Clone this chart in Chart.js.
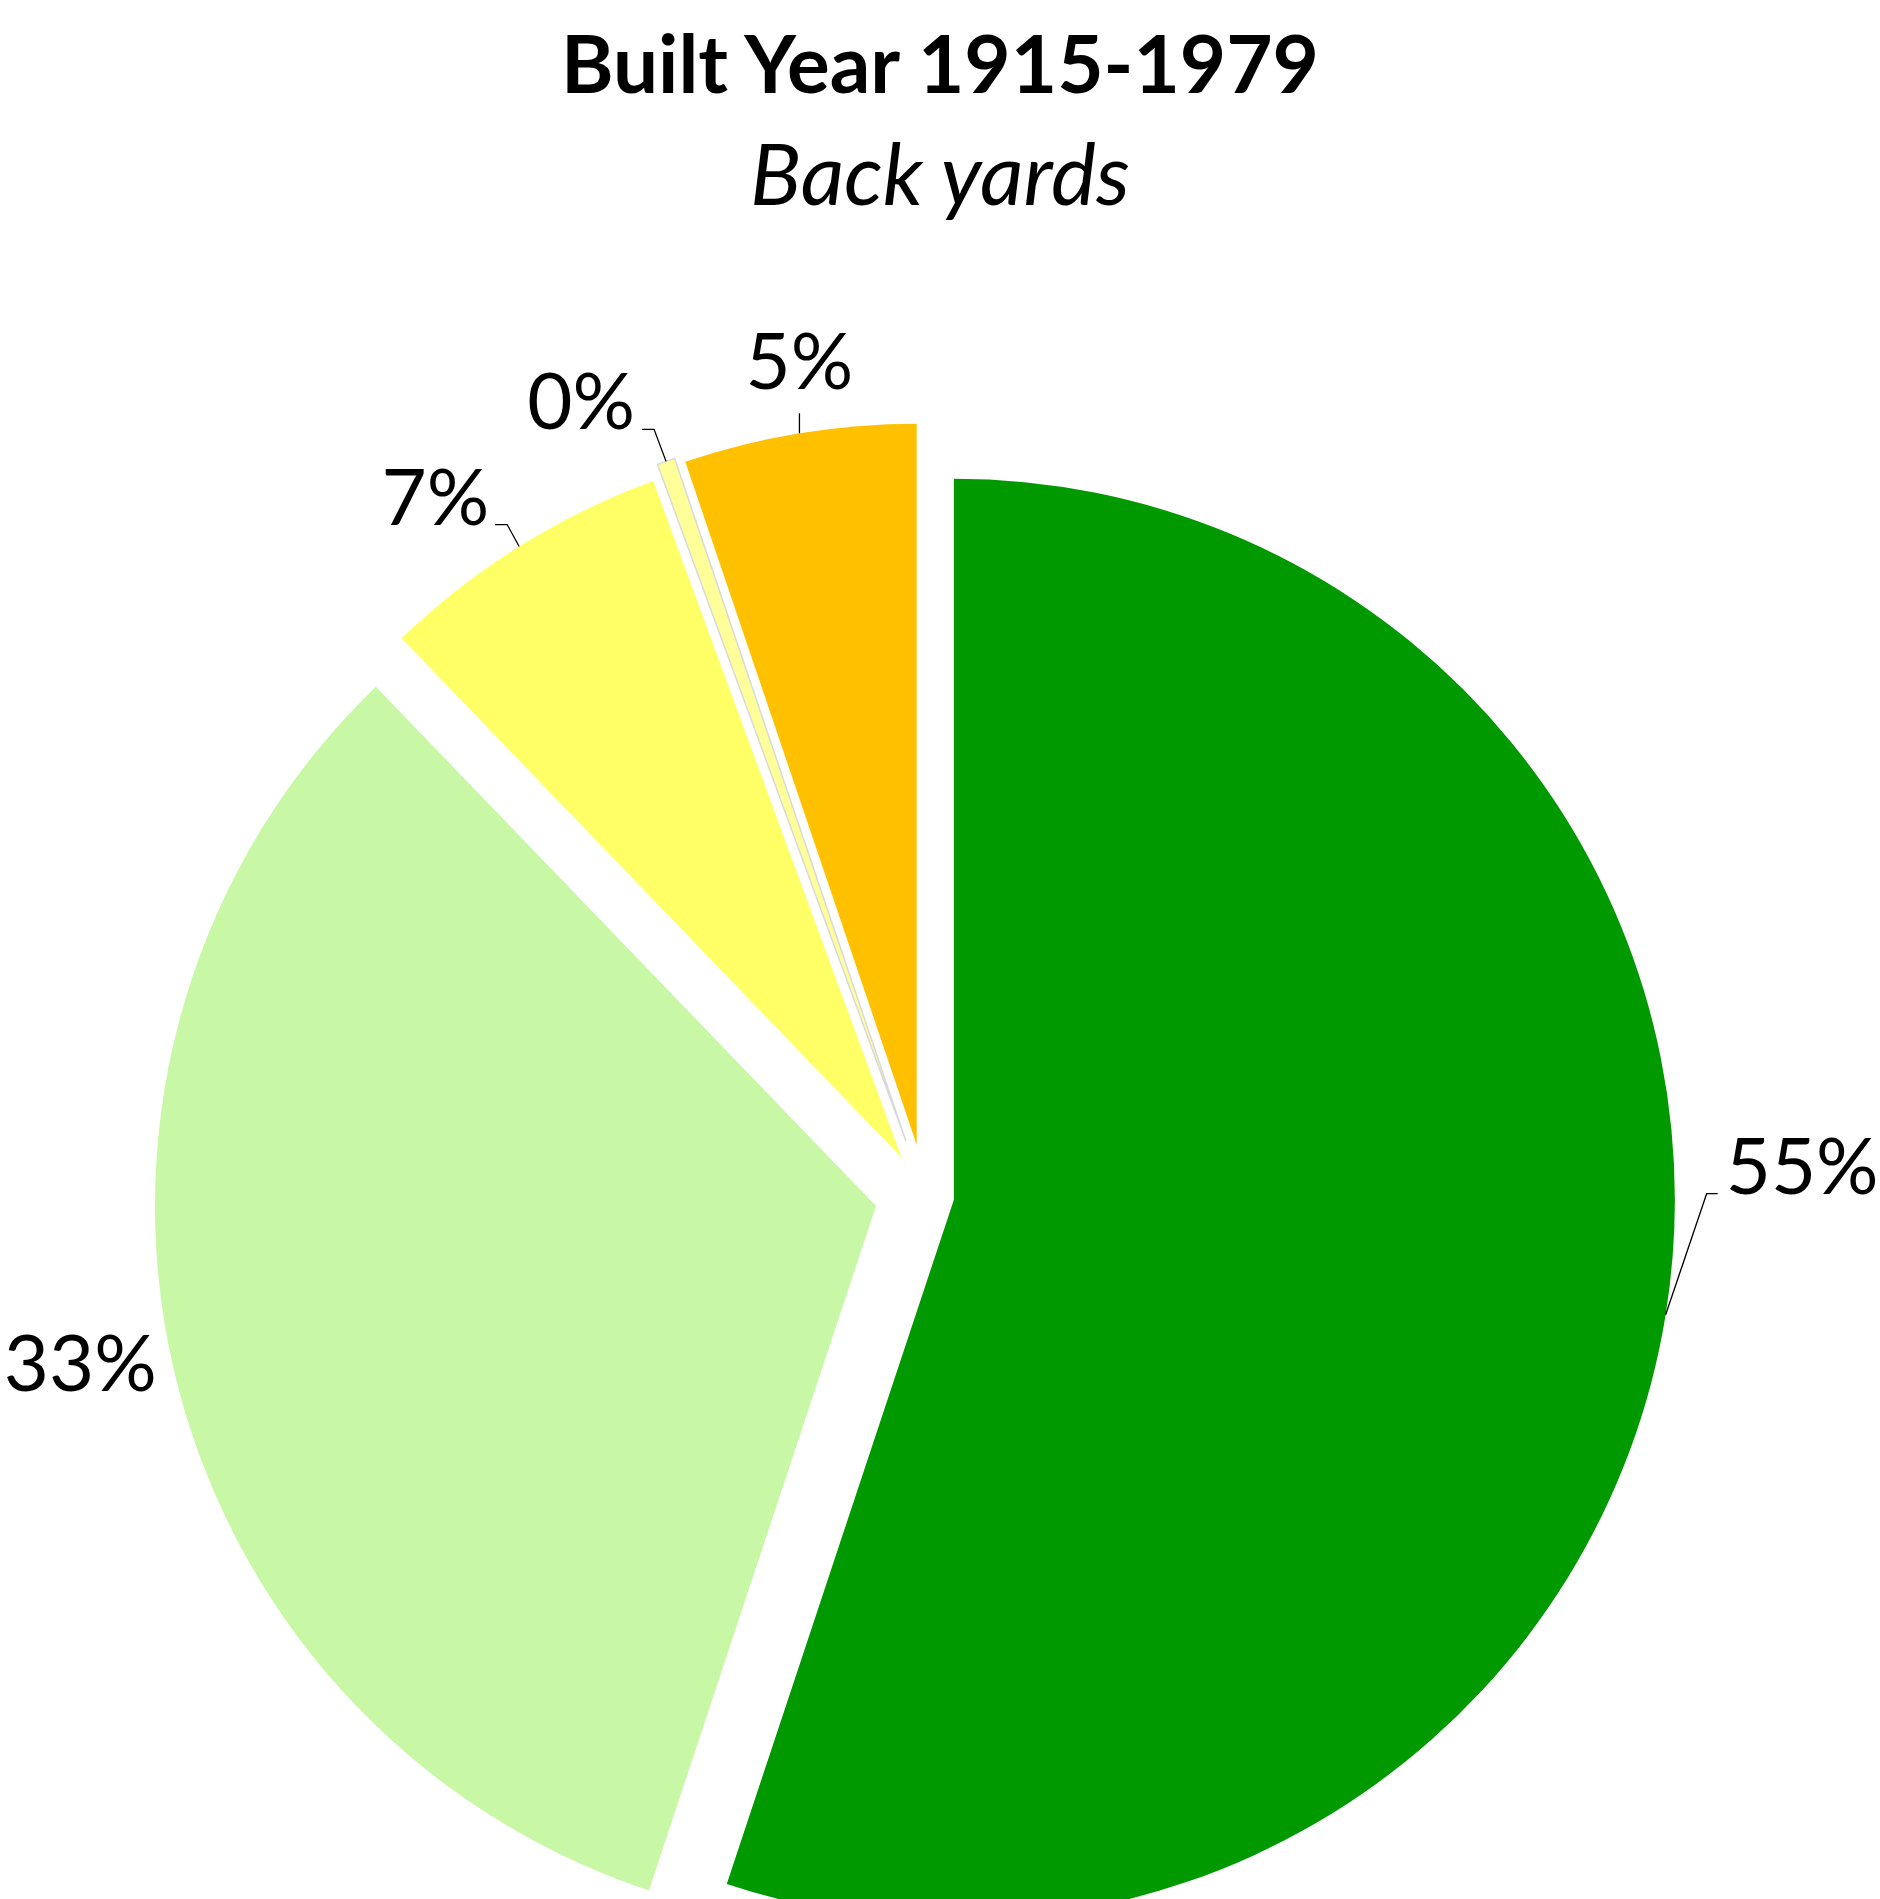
<!DOCTYPE html>
<html>
<head>
<meta charset="utf-8">
<title>Built Year 1915-1979 - Back yards</title>
<script src="https://cdn.jsdelivr.net/npm/chart.js@4.4.1/dist/chart.umd.min.js"></script>
<style>
  html, body { margin: 0; padding: 0; background: #fff; overflow: hidden; }
  #wrap { position: relative; width: 1880px; height: 1899px; overflow: hidden; }
  #myChart { position: absolute; left: 0; top: 0; }
  .title { position: absolute; left: 0; width: 1880px; text-align: center; font-family: Lato, sans-serif; color: #000; white-space: nowrap; }
  #title { top: 14px; font-size: 80px; line-height: 96px; font-weight: bold; }
  #subtitle { top: 121px; font-size: 85px; line-height: 102px; font-style: italic; }
</style>
</head>
<body>
<div id="wrap">
  <div class="title" id="title">Built Year 1915-1979</div>
  <div class="title" id="subtitle">Back yards</div>
  <canvas id="myChart" width="1880" height="1899"></canvas>
</div>
<script>
// slices, clockwise from 12 o'clock
const categories = ["Group 1", "Group 2", "Group 3", "Group 4", "Group 5"];
const shares = [55.1, 32.7, 6.6, 0.4, 5.2];

const sliceColors = ["#009900", "#c8f7a6", "#ffff66", "#ffff99", "#ffc000"];
const sliceBorders = ["#ffffff", "#ffffff", "#ffffff", "#d9d9d9", "#ffffff"];
const sliceBorderWidths = [0, 0, 0, 1.5, 0];
// chart.js moves a slice by offset / 4
const sliceOffsets = [117, 201, 176, 228, 204];
const pieRadius = 721;

// label placement relative to the outer middle point of each slice
const labelLayout = [
  { dx: 41, dy: -121, stub: 11, gap: 8, align: "left", textDy: 0, line: true },
  { dx: -16, dy: 25, stub: 0, gap: 0, align: "right", textDy: 0, line: false },
  { dx: -12, dy: -22, stub: -12, gap: -6, align: "right", textDy: 0, line: true },
  { dx: -12, dy: -32, stub: -12, gap: -7, align: "right", textDy: 0, line: true },
  { dx: 0, dy: -20, stub: 0, gap: 0, align: "center", textDy: -24, line: true },
];

const sliceLabels = {
  id: "sliceLabels",
  afterDatasetUpdate(chart, args) {
    // chart.js grows and narrows a pulled-out slice; undo that so every
    // slice keeps the same radius and its true angle
    args.meta.data.forEach((arc) => {
      const shift = (arc.options.offset || 0) / 4;
      const fix = 1 - Math.sin(Math.min(Math.PI, arc.circumference));
      const grow = shift * fix;
      const widen = grow / Math.PI / pieRadius / 2;
      arc.outerRadius = pieRadius - grow;
      arc.startAngle -= widen;
      arc.endAngle += widen;
    });
  },
  afterDatasetsDraw(chart) {
    const ctx = chart.ctx;
    ctx.save();
    ctx.font = "78px Lato";
    ctx.fillStyle = "#000";
    ctx.strokeStyle = "#000";
    ctx.lineWidth = 1.3;
    ctx.textBaseline = "alphabetic";
    chart.getDatasetMeta(0).data.forEach((arc, i) => {
      const mid = (arc.startAngle + arc.endAngle) / 2;
      const shift = (arc.options.offset || 0) / 4;
      const px = arc.x + Math.cos(mid) * (pieRadius + shift);
      const py = arc.y + Math.sin(mid) * (pieRadius + shift);
      const lay = labelLayout[i];
      const ex = px + lay.dx;
      const ey = py + lay.dy;
      const sx = ex + lay.stub;
      if (lay.line) {
        ctx.beginPath();
        ctx.moveTo(px, py);
        ctx.lineTo(ex, ey);
        if (lay.stub) ctx.lineTo(sx, ey);
        ctx.stroke();
      }
      ctx.textAlign = lay.align;
      ctx.fillText(Math.round(shares[i]) + "%", sx + lay.gap, ey + lay.textDy);
    });
    ctx.restore();
  },
};

const myChart = document.querySelector("#myChart");

new Chart(myChart, {
  type: "pie",
  data: {
    labels: categories,
    datasets: [
      {
        data: shares,
        backgroundColor: sliceColors,
        borderColor: sliceBorders,
        borderWidth: sliceBorderWidths,
        offset: sliceOffsets,
        radius: pieRadius,
        clip: false,
      },
    ],
  },
  options: {
    responsive: false,
    animation: false,
    events: [],
    layout: {
      padding: { top: 491, right: 30, bottom: 0, left: 0 },
    },
    plugins: {
      legend: { display: false },
      tooltip: { enabled: false },
    },
  },
  plugins: [sliceLabels],
});
</script>
</body>
</html>
